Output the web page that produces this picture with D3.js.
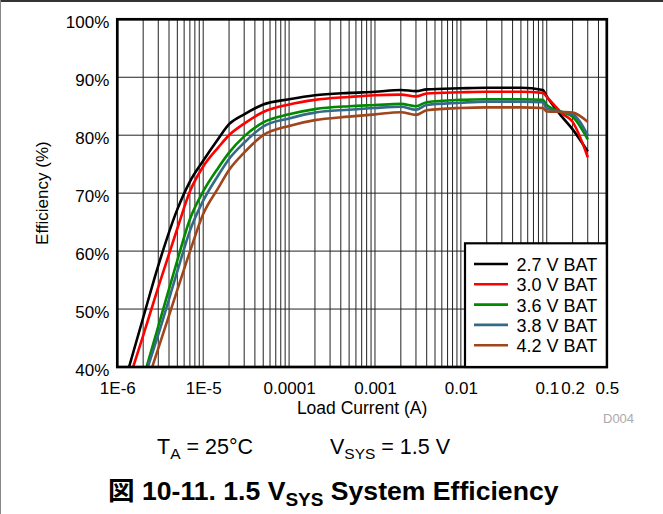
<!DOCTYPE html>
<html><head><meta charset="utf-8">
<script src="https://cdn.jsdelivr.net/npm/d3@7"></script>
<style>
body{margin:0;background:#fff}
svg{display:block;font-family:"Liberation Sans",Arial,"Noto Sans CJK JP",sans-serif}
</style>
</head><body>
<svg id="c" width="663" height="514"></svg>
<script>
// ---- data ----
const seriesNames = ["2.7 V BAT", "3.0 V BAT", "3.6 V BAT", "3.8 V BAT", "4.2 V BAT"];
const seriesColors = ["#000000", "#ff0000", "#008a00", "#336a86", "#a0461c"];
// load current (A) at which each curve enters the chart at 40 %
const startCurrent = [1.37e-6, 1.53e-6, 2.19e-6, 2.27e-6, 2.55e-6];
const currents = [2e-6, 3e-6, 5e-6, 7e-6, 1e-5, 1.5e-5, 2e-5, 3e-5, 5e-5, 1e-4, 2e-4, 5e-4,
                  1e-3, 2e-3, 3e-3, 4e-3, 1e-2, 2e-2, 5e-2, 9e-2, 0.1, 0.15, 0.2, 0.3];
const eff27 = [48.5, 57.5, 67.2, 72.0, 75.6, 79.4, 81.9, 83.6, 85.3, 86.2, 86.9, 87.3,
               87.5, 87.8, 87.6, 87.9, 88.1, 88.2, 88.2, 87.8, 86.7, 83.2, 81.0, 77.2];
const eff30 = [45.4, 53.8, 63.9, 70.3, 74.6, 77.9, 80.0, 82.0, 84.0, 85.3, 86.1, 86.6,
               86.9, 87.0, 86.7, 87.2, 87.4, 87.5, 87.5, 87.3, 86.6, 83.8, 82.3, 76.2];
const eff36 = [null, 47.0, 58.4, 65.5, 70.3, 74.4, 77.0, 79.8, 82.2, 83.6, 84.5, 85.0,
               85.2, 85.4, 85.0, 85.7, 86.1, 86.2, 86.2, 86.1, 85.2, 84.0, 83.2, 79.3];
const eff38 = [null, 45.6, 56.5, 63.5, 68.7, 73.1, 75.9, 78.7, 81.5, 82.9, 83.9, 84.4,
               84.7, 84.9, 84.4, 85.2, 85.6, 85.8, 85.8, 85.7, 84.6, 84.0, 83.6, 80.0];
const eff42 = [null, 43.2, 53.3, 59.9, 66.4, 70.9, 74.0, 77.0, 80.0, 81.6, 82.6, 83.2,
               83.6, 83.95, 83.5, 84.3, 84.7, 84.8, 84.8, 84.7, 84.1, 84.0, 83.9, 82.3];
const effSeries = [eff27, eff30, eff36, eff38, eff42];
const xTickValues = [1e-6, 1e-5, 1e-4, 1e-3, 1e-2, 0.1, 0.2, 0.5];
const xTickLabels = ["1E-6", "1E-5", "0.0001", "0.001", "0.01", "0.1", "0.2", "0.5"];
const yTickValues = [40, 50, 60, 70, 80, 90, 100];

// ---- layout ----
const svg = d3.select("#c");
const L = 117.3, R = 606.8, T = 19.3, B = 367;
const x = d3.scaleLog().domain([1e-6, 0.5]).range([L, R]);
const y = d3.scaleLinear().domain([40, 100]).range([B, T]);

// outer figure frame
svg.append("line").attr("x1", 0).attr("x2", 663).attr("y1", 1).attr("y2", 1)
  .attr("stroke", "#333").attr("stroke-width", 2);
svg.append("line").attr("x1", 0.5).attr("x2", 0.5).attr("y1", 0).attr("y2", 514)
  .attr("stroke", "#888").attr("stroke-width", 1);

// grid
const grid = svg.append("g");
grid.selectAll("line.v").data(x.ticks()).join("line")
  .attr("x1", d => x(d)).attr("x2", d => x(d)).attr("y1", T).attr("y2", B)
  .attr("stroke", "#222").attr("stroke-width", 1);
grid.selectAll("line.h").data(yTickValues).join("line")
  .attr("x1", L).attr("x2", R).attr("y1", d => y(d)).attr("y2", d => y(d))
  .attr("stroke", "#222").attr("stroke-width", 1);

// curves
svg.append("clipPath").attr("id", "clip").append("rect")
  .attr("x", L).attr("y", T).attr("width", R - L).attr("height", B - T);
const line = d3.line().defined(d => d[1] != null)
  .x(d => x(d[0])).y(d => y(d[1])).curve(d3.curveMonotoneX);
const lines = svg.append("g").attr("clip-path", "url(#clip)");
effSeries.forEach((vals, i) => {
  const pts = [[startCurrent[i], 40]].concat(
    currents.map((c, j) => [c, vals[j]]).filter(p => p[1] != null && p[0] > startCurrent[i]));
  lines.append("path").datum(pts).attr("d", line)
    .attr("fill", "none").attr("stroke", seriesColors[i]).attr("stroke-width", 2.6)
    .attr("stroke-linejoin", "round");
});

// frame
svg.append("rect").attr("x", L).attr("y", T).attr("width", R - L).attr("height", B - T)
  .attr("fill", "none").attr("stroke", "#000").attr("stroke-width", 2.7);

// axes
const xAxis = svg.append("g").attr("transform", `translate(0,${B})`)
  .call(d3.axisBottom(x).tickValues(xTickValues)
    .tickFormat((d, i) => xTickLabels[i]).tickSize(0).tickPadding(15));
xAxis.select(".domain").remove();
xAxis.selectAll("text").attr("font-size", 17).attr("fill", "#000")
  .attr("font-family", "Liberation Sans, Arial, sans-serif");

const yAxis = svg.append("g").attr("transform", `translate(${L},0)`)
  .call(d3.axisLeft(y).tickValues(yTickValues).tickFormat(d => d + "%").tickSize(0).tickPadding(8));
yAxis.select(".domain").remove();
yAxis.selectAll("text").attr("font-size", 17).attr("fill", "#000").attr("dy", 8)
  .attr("font-family", "Liberation Sans, Arial, sans-serif");

// axis titles
svg.append("text").attr("x", (L + R) / 2).attr("y", 414).attr("text-anchor", "middle")
  .attr("font-size", 17.5).text("Load Current (A)");
svg.append("text").attr("transform", `translate(48,${(T + B) / 2}) rotate(-90)`)
  .attr("text-anchor", "middle").attr("font-size", 17).text("Efficiency (%)");

// D004
svg.append("text").attr("x", 603).attr("y", 423).attr("font-size", 13)
  .attr("fill", "#aaa").text("D004");

// legend
const lg = svg.append("g");
const LX = 465, LY = 243.3;
lg.append("rect").attr("x", LX).attr("y", LY).attr("width", R - LX).attr("height", B - LY)
  .attr("fill", "#fff").attr("stroke", "#000").attr("stroke-width", 2.2);
seriesNames.forEach((name, i) => {
  const yy = 271 + i * 20.3;
  lg.append("line").attr("x1", 474).attr("x2", 508).attr("y1", yy - 7).attr("y2", yy - 7)
    .attr("stroke", seriesColors[i]).attr("stroke-width", 2.6);
  lg.append("text").attr("x", 516.5).attr("y", yy).attr("font-size", 18).text(name);
});

// conditions
const t1 = svg.append("text").attr("x", 157).attr("y", 454).attr("font-size", 21.5);
t1.append("tspan").text("T");
t1.append("tspan").attr("font-size", 15.5).attr("dy", 5).text("A");
t1.append("tspan").attr("dy", -5).text(" = 25°C");
const t2 = svg.append("text").attr("x", 330).attr("y", 454).attr("font-size", 21.5);
t2.append("tspan").text("V");
t2.append("tspan").attr("font-size", 15.5).attr("dy", 5).text("SYS");
t2.append("tspan").attr("dy", -5).text(" = 1.5 V");

// caption
const cap = svg.append("text").attr("x", 108).attr("y", 500).attr("font-size", 26.6)
  .attr("font-weight", "bold");
cap.append("tspan").text("図 10-11. 1.5 V");
cap.append("tspan").attr("font-size", 19).attr("dy", 6).text("SYS");
cap.append("tspan").attr("dy", -6).text(" System Efficiency");
</script>
</body></html>
